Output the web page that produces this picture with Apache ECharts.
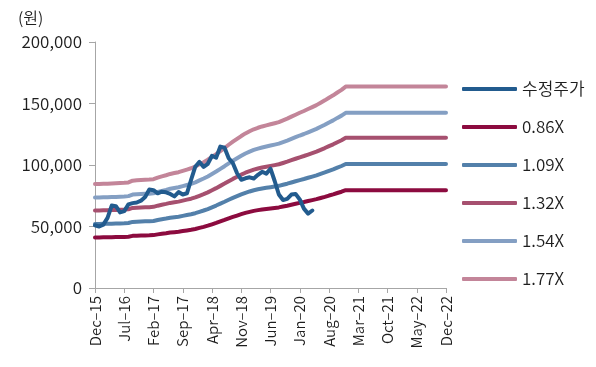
<!DOCTYPE html>
<html>
<head>
<meta charset="utf-8">
<script src="https://cdn.jsdelivr.net/npm/echarts@6/dist/echarts.min.js"></script>
<style>
html,body{margin:0;padding:0;background:#fff;}
#chart{width:596px;height:367px;}
</style>
</head>
<body>
<div id="chart"></div>
<script>
// Monthly categories Dec-15 .. Dec-22
const categories = [
  "Dec-15","Jan-16","Feb-16","Mar-16","Apr-16","May-16","Jun-16","Jul-16","Aug-16","Sep-16","Oct-16","Nov-16",
  "Dec-16","Jan-17","Feb-17","Mar-17","Apr-17","May-17","Jun-17","Jul-17","Aug-17","Sep-17","Oct-17","Nov-17",
  "Dec-17","Jan-18","Feb-18","Mar-18","Apr-18","May-18","Jun-18","Jul-18","Aug-18","Sep-18","Oct-18","Nov-18",
  "Dec-18","Jan-19","Feb-19","Mar-19","Apr-19","May-19","Jun-19","Jul-19","Aug-19","Sep-19","Oct-19","Nov-19",
  "Dec-19","Jan-20","Feb-20","Mar-20","Apr-20","May-20","Jun-20","Jul-20","Aug-20","Sep-20","Oct-20","Nov-20",
  "Dec-20","Jan-21","Feb-21","Mar-21","Apr-21","May-21","Jun-21","Jul-21","Aug-21","Sep-21","Oct-21","Nov-21",
  "Dec-21","Jan-22","Feb-22","Mar-22","Apr-22","May-22","Jun-22","Jul-22","Aug-22","Sep-22","Oct-22","Nov-22",
  "Dec-22"
];

// Adjusted share price (수정주가), monthly, Dec-15 .. Apr-20
const price = [
  51000,50000,51500,57000,67000,66500,61500,62500,68000,69000,69500,71000,
  74000,80000,79500,77000,78300,77800,76500,74500,78000,76000,77000,88000,
  98600,102500,98500,101000,107500,106000,115000,114000,105500,101500,93300,88000,
  89200,90000,89000,92000,94500,93000,97000,87000,76000,71500,72500,76000,
  76500,72000,64500,60500,63000
];

// Book value per share behind the PBR bands, monthly
const bps = [
  47800,47800,47900,47900,48000,48100,48200,48300,48500,49300,49500,49600,
  49700,49800,50000,50700,51300,51800,52400,52800,53200,53800,54400,55000,
  55800,56800,57800,58900,60200,61500,62900,64300,65800,67200,68500,69800,
  71000,72000,72900,73600,74200,74700,75200,75700,76200,77000,77800,78700,
  79600,80500,81300,82200,83100,84000,85100,86200,87400,88500,89800,91000,
  92500,92500,92500,92500,92500,92500,92500,92500,92500,92500,92500,92500,
  92500,92500,92500,92500,92500,92500,92500,92500,92500,92500,92500,92500,
  92500
];

const bandMultiples = [0.86, 1.09, 1.32, 1.54, 1.77];
const bandNames = ["0.86X","1.09X","1.32X","1.54X","1.77X"];
const yTicks = [0, 50000, 100000, 150000, 200000];

const priceColor = "#225b8e";
const bandColors = ["#8c0b3f","#5380aa","#a6506f","#849fc3","#c38599"];

const FONT = "'Noto Sans CJK KR','Noto Sans',sans-serif";
const TXT = "#1e1e1e";
const FW = 350;

const series = [{
  name: "수정주가",
  type: "line",
  data: price,
  showSymbol: false,
  symbol: "none",
  lineStyle: { width: 4, color: priceColor, cap: "round", join: "round" },
  itemStyle: { color: priceColor },
  z: 10
}];
bandMultiples.forEach((m, i) => {
  series.push({
    name: bandNames[i],
    type: "line",
    data: bps.map(v => Math.round(v * m)),
    showSymbol: false,
    symbol: "none",
    lineStyle: { width: 4, color: bandColors[i], cap: "round", join: "round" },
    itemStyle: { color: bandColors[i] },
    z: 5
  });
});

const chart = echarts.init(document.getElementById("chart"), null, { renderer: "canvas" });
chart.setOption({
  animation: false,
  backgroundColor: "#fff",
  textStyle: { fontFamily: FONT, fontWeight: FW },
  title: {
    text: "(원)",
    left: 13, top: 5,
    textStyle: { fontFamily: FONT, fontSize: 16, fontWeight: FW, color: TXT }
  },
  grid: { left: 95, right: 150, top: 42, bottom: 79, containLabel: false },
  legend: {
    orient: "vertical",
    left: 457, top: 74,
    itemWidth: 55, itemHeight: 4,
    itemGap: 18,
    icon: "roundRect",
    textStyle: { fontFamily: FONT, fontSize: 17, fontWeight: FW, color: TXT, lineHeight: 20 },
    data: ["수정주가"].concat(bandNames)
  },
  xAxis: {
    type: "category",
    data: categories,
    boundaryGap: false,
    axisLine: { show: true, lineStyle: { color: "#a6a6a6", width: 1 } },
    axisTick: { show: true, interval: 6, length: 5, lineStyle: { color: "#a6a6a6" } },
    axisLabel: {
      interval: 6, rotate: 90, fontSize: 15, fontWeight: FW, color: TXT, margin: 8,
      fontFamily: FONT,
      formatter: v => v.replace("-", "\u2013")
    },
    splitLine: { show: false }
  },
  yAxis: {
    type: "value",
    min: 0, max: 200000, interval: 50000,
    axisLine: { show: true, lineStyle: { color: "#a6a6a6", width: 1 } },
    axisTick: { show: true, length: 6, lineStyle: { color: "#a6a6a6" } },
    axisLabel: {
      fontSize: 17, fontWeight: FW, color: TXT, margin: 13, fontFamily: FONT,
      customValues: yTicks,
      formatter: v => v.toLocaleString("en-US")
    },
    splitLine: { show: false }
  },
  series: series
});
</script>
</body>
</html>
